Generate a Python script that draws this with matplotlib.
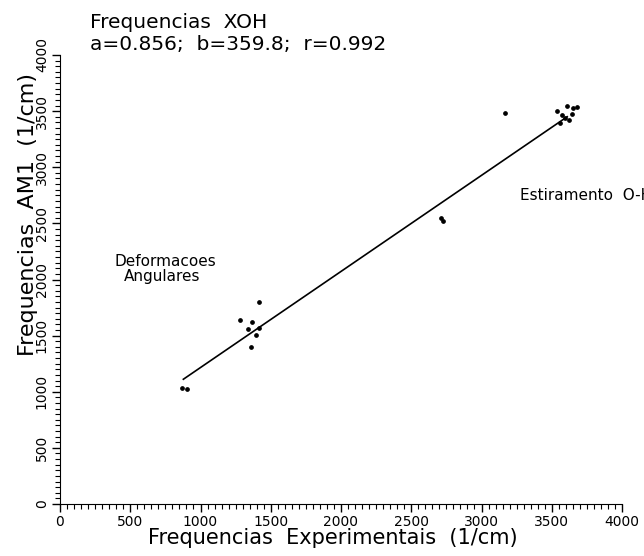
import numpy as np
import matplotlib.pyplot as plt
from matplotlib.ticker import MultipleLocator

freq_exp = [870, 906, 1281, 1367, 1416, 1340, 1395, 1359, 1416,
            2726, 2712, 3167,
            3611, 3653, 3677, 3535, 3571, 3594, 3625, 3559, 3642]
freq_am1 = [1033, 1024, 1637, 1622, 1804, 1556, 1503, 1399, 1569,
            2519, 2545, 3482,
            3542, 3527, 3536, 3497, 3467, 3438, 3422, 3393, 3473]

# fit reported on the chart
a = 0.856
b = 359.8
r = 0.992
fit_x = np.array([878, 3610])
fit_y = a * fit_x + b

fig = plt.figure(figsize=(6.44, 5.56), dpi=100)
ax = fig.add_axes([60/644, 52/556, 562/644, 449/556])

ax.plot(freq_exp, freq_am1, 'o', color='black', markersize=2.4)
ax.plot(fit_x, fit_y, color='black', linewidth=1.2)

ax.set_xlim(0, 4000)
ax.set_ylim(0, 4000)
for s in ['top', 'right']:
    ax.spines[s].set_visible(False)
ax.xaxis.set_major_locator(MultipleLocator(500))
ax.yaxis.set_major_locator(MultipleLocator(500))
ax.xaxis.set_minor_locator(MultipleLocator(50))
ax.yaxis.set_minor_locator(MultipleLocator(50))
ax.tick_params(which='major', length=6, width=1, labelsize=10, pad=2)
ax.tick_params(which='minor', length=3.5, width=0.8)
plt.setp(ax.get_yticklabels(), rotation=90, va='center')

# axis titles
fig.text(333/644, 1 - 538/556, 'Frequencias  Experimentais  (1/cm)',
         fontsize=15, ha='center', va='center')
fig.text(28/644, 1 - 215/556, 'Frequencias  AM1  (1/cm)', fontsize=16,
         rotation=90, ha='center', va='center')

fig.text(90/644, 1 - 22/556, 'Frequencias  XOH', fontsize=14.5, va='center')
fig.text(90/644, 1 - 45/556, 'a=0.856;  b=359.8;  r=0.992', fontsize=14.5,
         va='center')

fig.text(165/644, 1 - 262/556, 'Deformacoes', fontsize=11, ha='center',
         va='center')
fig.text(162/644, 1 - 276/556, 'Angulares', fontsize=11, ha='center',
         va='center')
fig.text(520/644, 1 - 195/556, 'Estiramento  O-H', fontsize=11, va='center')

fig.savefig('out.png', dpi=100)
